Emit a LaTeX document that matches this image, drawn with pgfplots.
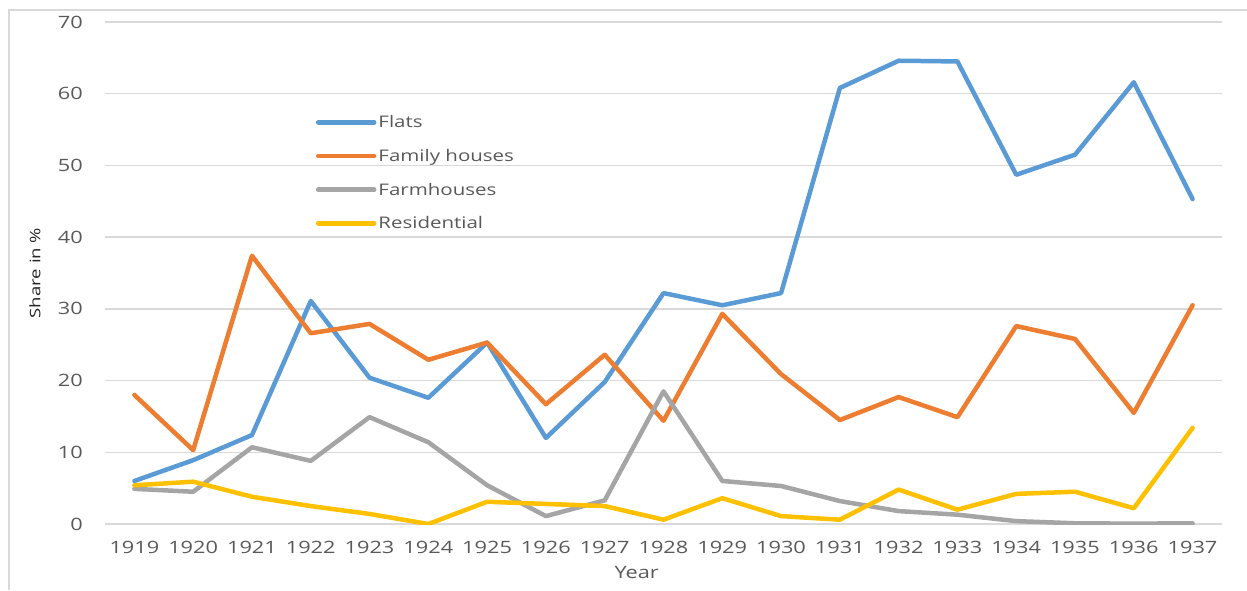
\documentclass[border=0pt]{standalone}
\usepackage{pgfplots}
\pgfplotsset{compat=1.18}
\usepackage{fontspec}
\setmainfont{Open Sans}[FakeStretch=1.28]
\definecolor{cflat}{HTML}{5B9BD5}
\definecolor{cfam}{HTML}{ED7D31}
\definecolor{cfarm}{HTML}{A5A5A5}
\definecolor{cres}{HTML}{FFC000}
\definecolor{cgrid}{HTML}{D9D9D9}
\definecolor{ctext}{HTML}{595959}
\pgfplotstableread{
year flats family farm res
1919 6.0 18.0 4.9 5.4
1920 8.9 10.3 4.5 5.9
1921 12.4 37.4 10.7 3.8
1922 31.1 26.6 8.8 2.5
1923 20.4 27.9 14.9 1.4
1924 17.6 22.9 11.4 0.0
1925 25.3 25.3 5.4 3.1
1926 12.0 16.7 1.1 2.8
1927 19.8 23.6 3.3 2.5
1928 32.2 14.4 18.5 0.6
1929 30.5 29.3 6.0 3.6
1930 32.2 20.9 5.3 1.1
1931 60.8 14.5 3.2 0.6
1932 64.6 17.7 1.8 4.8
1933 64.5 14.9 1.3 2.0
1934 48.7 27.6 0.4 4.2
1935 51.5 25.8 0.1 4.5
1936 61.6 15.5 0.05 2.2
1937 45.3 30.5 0.1 13.4
}\datatable
\begin{document}
\begin{tikzpicture}
\useasboundingbox (-105pt,-66pt) rectangle (1142pt,524pt);
\draw[cgrid, line width=1.5pt] (-96pt,-66pt) -- (-96pt,514pt) -- (1142pt,514pt);
\begin{axis}[
  at={(0,0)}, anchor=south west,
  scale only axis, width=1117pt, height=502pt,
  xmin=1918.5, xmax=1937.5, ymin=0, ymax=70,
  xtick={1919,...,1937}, ytick={0,10,...,70},
  xticklabel style={/pgf/number format/1000 sep={}},
  /pgf/number format/assume math mode=true,
  axis line style={draw=none},
  axis x line*=bottom, axis y line*=left,
  major tick length=0pt,
  ymajorgrids, grid style={cgrid, line width=1.3pt},
  tick label style={font=\fontsize{17}{20}\selectfont, text=ctext, inner sep=0pt},
  yticklabel style={anchor=east, xshift=-22pt},
  xticklabel style={anchor=north, yshift=-17pt},
  xlabel={Year},
  xlabel style={font=\fontsize{17}{20}\selectfont, text=ctext, at={(axis description cs:0.476,0)}, anchor=center, yshift=-49pt},
  ylabel={Share in \%},
  ylabel style={font=\fontsize{14.5}{17}\selectfont, text=black!85, at={(axis description cs:-0.0627,0.5)}, anchor=center},
  legend cell align=left,
  legend style={draw=none, fill=none, at={(rel axis cs:0.186,0.822)}, anchor=north west,
    font=\fontsize{16}{19}\selectfont, text=ctext, row sep=16pt,
    nodes={inner sep=2pt}},
  legend image code/.code={\draw[#1, line width=4.5pt, line cap=round] (0pt,0pt) -- (56pt,0pt);},
  every axis plot/.append style={line width=4.5pt, line join=round, line cap=round},
]
\addplot[cflat] table[x=year, y=flats] {\datatable};
\addplot[cfam] table[x=year, y=family] {\datatable};
\addplot[cfarm] table[x=year, y=farm] {\datatable};
\addplot[cres] table[x=year, y=res] {\datatable};
\legend{Flats, Family houses, Farmhouses, Residential}
\end{axis}
\end{tikzpicture}
\end{document}
